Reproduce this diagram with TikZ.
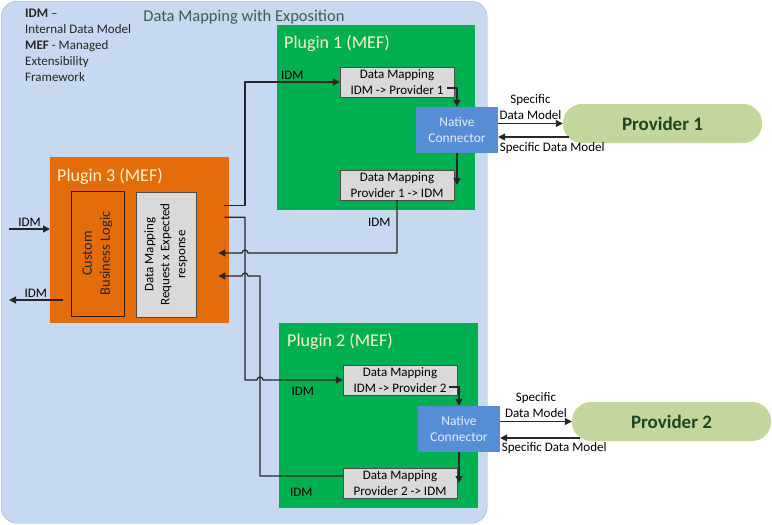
\documentclass[tikz,border=0pt]{standalone}
\usepackage{fontspec}
\setmainfont{Carlito}
\usetikzlibrary{arrows.meta}

\definecolor{expofill}{RGB}{198,217,240}
\definecolor{expoline}{RGB}{150,178,215}
\definecolor{plugreen}{RGB}{0,176,80}
\definecolor{plugorange}{RGB}{228,108,10}
\definecolor{ncblue}{RGB}{85,142,213}
\definecolor{nctext}{RGB}{225,235,248}
\definecolor{provgreen}{RGB}{195,214,155}
\definecolor{provtext}{RGB}{30,70,35}
\definecolor{mapgray}{RGB}{217,217,217}
\definecolor{titlecol}{RGB}{60,95,75}
\definecolor{plugtext}{RGB}{255,242,204}

\tikzset{
  plugbox/.style={anchor=north west, inner sep=0pt},
  plugtitle/.style={anchor=west, inner sep=0pt, text=plugtext, font=\fontsize{18}{20}\selectfont},
  mapbox/.style={draw=black!70, fill=mapgray, minimum width=114pt, minimum height=30pt,
    inner sep=0pt, align=center, font=\fontsize{13}{16}\selectfont},
  ncbox/.style={fill=ncblue, text=nctext, minimum width=82pt, minimum height=46pt,
    inner sep=0pt, align=center, font=\fontsize{13.5}{16}\selectfont},
  provbox/.style={fill=provgreen, rounded corners=19pt, minimum width=199pt, minimum height=39pt,
    inner sep=0pt, text=provtext, font=\fontsize{19}{22}\selectfont\bfseries},
  lbl/.style={font=\fontsize{13}{16}\selectfont, inner sep=2pt},
  conn/.style={draw=black!85, line width=1.2pt},
  arr/.style={conn, -{Triangle[length=7pt,width=7pt]}}
}

\begin{document}
\begin{tikzpicture}[x=1pt, y=-1pt, line join=round]
\useasboundingbox (0,0) rectangle (772,525);

% exposition area
\node[draw=expoline, fill=expofill, rounded corners=16pt, minimum width=486pt, minimum height=522pt,
  anchor=north west, inner sep=0pt] (expo) at (1,1) {};
\node[text=titlecol, font=\fontsize{16.5}{18}\selectfont] (title) at (244,17) {Data Mapping with Exposition};
\node[anchor=north west, align=left, inner sep=0pt, text=black!85,
  font=\fontsize{13}{16}\selectfont] (legend) at (25,9)
  {\textbf{IDM} –\\Internal Data Model\\\textbf{MEF} - Managed\\Extensibility\\Framework};

% plugin 1
\node[plugbox, fill=plugreen, minimum width=198pt, minimum height=185pt] (plug1) at (277,25) {};
\node[plugtitle] (plug1t) at ([shift={(7pt,-18pt)}]plug1.north west) {Plugin 1 (MEF)};
\node[mapbox] (map1a) at (397,82) {Data Mapping\\IDM -> Provider 1};
\node[ncbox] (nc1) at (457,130) {Native\\Connector};
\node[mapbox] (map1b) at (397,185) {Data Mapping\\Provider 1 -> IDM};
\node[provbox] (prov1) at (662.5,123.5) {Provider 1};

% plugin 2
\node[plugbox, fill=plugreen, minimum width=199pt, minimum height=185pt] (plug2) at (279,323) {};
\node[plugtitle] (plug2t) at ([shift={(8pt,-18pt)}]plug2.north west) {Plugin 2 (MEF)};
\node[mapbox] (map2a) at (400,380) {Data Mapping\\IDM -> Provider 2};
\node[ncbox] (nc2) at (459,429) {Native\\Connector};
\node[mapbox] (map2b) at (400,483) {Data Mapping\\Provider 2 -> IDM};
\node[provbox] (prov2) at (671.5,421.5) {Provider 2};

% plugin 3
\node[plugbox, fill=plugorange, minimum width=179pt, minimum height=166pt] (plug3) at (50,157) {};
\node[plugtitle] (plug3t) at ([shift={(7pt,-19pt)}]plug3.north west) {Plugin 3 (MEF)};
\node[draw=black!80!brown, fill=plugorange, rotate=90, minimum width=125pt, minimum height=53pt,
  inner sep=0pt, align=center, text=black!85, font=\fontsize{14.5}{18}\selectfont] (logic) at (97.5,253.5)
  {Custom\\Business Logic};
\node[mapbox, rotate=90, minimum width=125pt, minimum height=60pt] (map3) at (166,254.5)
  {Data Mapping\\Request x Expected\\response};

\coordinate (busA) at (245,0);
\coordinate (busB) at (260,0);
\coordinate (dock) at ([xshift=-11pt]plug3.east);
\coordinate (idmin) at (9,229);
\coordinate (idmout) at (9,300);
\coordinate (p1back) at ([shift={(6pt,-13.5pt)}]prov1.west);
\coordinate (p2back) at ([shift={(8pt,-16.5pt)}]prov2.west);

% plugin 3 in and out
\draw[arr] (idmin) -- (plug3.west |- idmin) node[lbl, midway, above] {IDM};
\draw[arr] ([xshift=-8pt]logic.north |- idmout) -- (idmout) node[lbl, midway, above] {IDM};

% plugin 3 to plugins 1 and 2
\draw[arr] ([shift={(-5pt,35pt)}]plug3.east) -| (busA |- map1a.west) -- (map1a.west)
  node[lbl, midway, above] {IDM};
\draw[arr] ([shift={(-5pt,23pt)}]plug3.east) -| (busA |- map2a.west)
  -- ([xshift=-3pt]busB |- map2a.west) arc[start angle=180, end angle=0, radius=3pt]
  -- (map2a.west) node[lbl, midway, below, yshift=-5pt] {IDM};

% plugins 1 and 2 back to plugin 3
\draw[arr] (map1b.south) -- (map1b.south |- 0,253) node[lbl, midway, left, xshift=-4pt, yshift=4pt] {IDM}
  -- ([xshift=3pt]busA |- 0,253) arc[start angle=0, end angle=180, radius=3pt] -- (dock |- 0,253);
\draw[arr] ([yshift=7pt]map2b.west) -| node[lbl, pos=0.25, below, yshift=-10pt] {IDM} (busB |- 0,276)
  -- ([xshift=3pt]busA |- 0,276) arc[start angle=0, end angle=180, radius=3pt] -- (dock |- 0,276);

% inside the plugins
\draw[arr] ([shift={(-7pt,-6pt)}]map1a.east) -| (nc1.north);
\draw[arr] (nc1.south) -- (nc1.south |- map1b.center);
\draw[arr] ([shift={(-8pt,-7pt)}]map2a.east) -| (nc2.north);
\draw[arr] (nc2.south) -- (nc2.south |- map2b.center);

% connectors and providers
\draw[arr] (nc1.east |- prov1.west) -- (prov1.west)
  node[lbl, midway, above, align=center, inner sep=1pt, yshift=2pt] {Specific\\Data Model};
\draw[arr] (p1back) -- (nc1.east |- p1back)
  node[lbl, pos=1, below right, inner sep=1pt, yshift=-4pt] {Specific Data Model};
\draw[arr] (nc2.east |- prov2.west) -- (prov2.west)
  node[lbl, midway, above, align=center, inner sep=1pt, yshift=2pt] {Specific\\Data Model};
\draw[arr] (p2back) -- (nc2.east |- p2back)
  node[lbl, pos=1, below right, inner sep=1pt, yshift=-3pt] {Specific Data Model};
\end{tikzpicture}
\end{document}
